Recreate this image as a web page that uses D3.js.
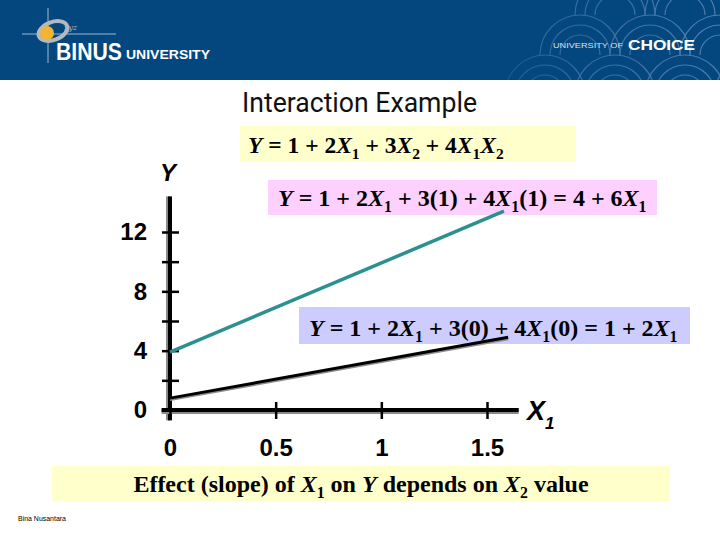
<!DOCTYPE html>
<html>
<head>
<meta charset="utf-8">
<script src="https://cdn.jsdelivr.net/npm/d3@7"></script>
<style>
  html, body { margin: 0; padding: 0; background: #ffffff; }
  svg { display: block; }
</style>
</head>
<body>
<script>
// ---------------- data ----------------
const title = "Interaction Example";
const xTicks = [0, 0.5, 1, 1.5];
const xTickLabels = ["0", "0.5", "1", "1.5"];
const yTicks = [0, 2, 4, 6, 8, 10, 12];
const yTickLabels = ["0", "", "4", "", "8", "", "12"];
// lines (X1, Y)
const lineX2is1 = [[0, 3.9], [1.58, 13.4]];
const lineX2is0 = [[0, 0.8], [1.6, 4.9]];
const seriesNames = ["X2 = 1", "X2 = 0"];
// equations: [text, style] with style n = normal, i = italic, s = subscript
const eqModel = [["Y", "i"], [" = 1 + 2", "n"], ["X", "i"], ["1", "s"], [" + 3", "n"], ["X", "i"], ["2", "s"], [" + 4", "n"], ["X", "i"], ["1", "s"], ["X", "i"], ["2", "s"]];
const eqX2is1 = [["Y", "i"], [" = 1 + 2", "n"], ["X", "i"], ["1", "s"], [" + 3(1) + 4", "n"], ["X", "i"], ["1", "s"], ["(1) = 4 + 6", "n"], ["X", "i"], ["1", "s"]];
const eqX2is0 = [["Y", "i"], [" = 1 + 2", "n"], ["X", "i"], ["1", "s"], [" + 3(0) + 4", "n"], ["X", "i"], ["1", "s"], ["(0) = 1 + 2", "n"], ["X", "i"], ["1", "s"]];
const note = [["Effect (slope) of ", "n"], ["X", "i"], ["1", "s"], [" on ", "n"], ["Y", "i"], [" depends on ", "n"], ["X", "i"], ["2", "s"], [" value", "n"]];

// ---------------- drawing ----------------
const W = 720, H = 540;
const svg = d3.select("body").append("svg").attr("width", W).attr("height", H);

// header band
const header = svg.append("g");
header.append("rect").attr("x", 0).attr("y", 0).attr("width", W).attr("height", 80).attr("fill", "#03477e");
const defs = svg.append("defs");
defs.append("clipPath").attr("id", "hclip").append("rect").attr("x", 0).attr("y", 0).attr("width", W).attr("height", 80);
const grad = defs.append("linearGradient").attr("id", "fadeArc").attr("gradientUnits", "userSpaceOnUse")
  .attr("x1", 470).attr("x2", 720).attr("y1", 0).attr("y2", 0);
grad.append("stop").attr("offset", "0").attr("stop-color", "#03477e");
grad.append("stop").attr("offset", "0.3").attr("stop-color", "#2f659a");
grad.append("stop").attr("offset", "1").attr("stop-color", "#4d7eab");
const arcs = header.append("g").attr("clip-path", "url(#hclip)").attr("fill", "none").attr("stroke-width", 1.2);
const arcCenters = [[545, 95], [615, 95], [685, 95], [755, 95], [580, 55], [650, 55], [720, 55], [615, 15], [685, 15]];
arcCenters.forEach(c => {
  [40, 30, 20].forEach(r => {
    const p = d3.path();
    p.moveTo(c[0] - r, c[1]);
    p.arc(c[0], c[1], r, Math.PI, 2 * Math.PI);
    arcs.append("path").attr("d", p.toString()).attr("stroke", "url(#fadeArc)");
  });
});
// logo
const logo = header.append("g");
logo.append("line").attr("x1", 48).attr("x2", 48).attr("y1", 8).attr("y2", 63).attr("stroke", "#9fb8d0").attr("stroke-width", 1);
logo.append("line").attr("x1", 22).attr("x2", 116).attr("y1", 34).attr("y2", 34).attr("stroke", "#9fb8d0").attr("stroke-width", 1);
logo.append("ellipse").attr("cx", 53).attr("cy", 31).attr("rx", 15).attr("ry", 9).attr("fill", "none").attr("stroke", "#b5b8bd").attr("stroke-width", 4).attr("transform", "rotate(-20,53,31)");
logo.append("circle").attr("cx", 47).attr("cy", 33).attr("r", 7).attr("fill", "#f3b531");
logo.append("text").attr("x", 64).attr("y", 30).attr("fill", "#aab4c0").attr("font-family", "DejaVu Serif").attr("font-style", "italic").attr("font-size", 8).text("xyz");
logo.append("text").attr("x", 56).attr("y", 60).attr("fill", "#ffffff").attr("font-family", "Liberation Sans, Arial").attr("font-weight", "bold").attr("font-size", 24).attr("textLength", 66).attr("lengthAdjust", "spacingAndGlyphs").text("BINUS");
logo.append("text").attr("x", 126).attr("y", 59).attr("fill", "#ffffff").attr("font-family", "Liberation Sans, Arial").attr("font-weight", "bold").attr("font-size", 13).attr("textLength", 84).attr("lengthAdjust", "spacingAndGlyphs").text("UNIVERSITY");
header.append("text").attr("x", 553).attr("y", 48).attr("fill", "#d7e2ec").attr("font-family", "Liberation Sans, Arial").attr("font-size", 8).attr("textLength", 70).attr("lengthAdjust", "spacingAndGlyphs").text("UNIVERSITY OF");
header.append("text").attr("x", 628).attr("y", 50).attr("fill", "#ffffff").attr("font-family", "Liberation Sans, Arial").attr("font-weight", "bold").attr("font-size", 15).attr("textLength", 67).attr("lengthAdjust", "spacingAndGlyphs").text("CHOICE");

// title
svg.append("text").attr("x", 242).attr("y", 112)
  .attr("font-family", "Liberation Sans Narrow, Roboto, Liberation Sans, Arial")
  .attr("font-size", 27).attr("fill", "#111")
  .attr("textLength", 235).attr("lengthAdjust", "spacingAndGlyphs")
  .text(title);

// rich text helper
function rich(g, parts, x, y, size, anchor) {
  const t = g.append("text").attr("x", x).attr("y", y)
    .attr("font-family", "Liberation Serif, Times New Roman, serif")
    .attr("font-weight", "bold").attr("font-size", size).attr("fill", "#000")
    .attr("text-anchor", anchor || "start");
  let shifted = false;
  parts.forEach(p => {
    const ts = t.append("tspan").text(p[0]);
    if (p[1] === "i") ts.attr("font-style", "italic");
    if (p[1] === "s") {
      ts.attr("font-size", size * 0.66).attr("dy", size * 0.26);
      shifted = true;
    } else if (shifted) {
      ts.attr("dy", -size * 0.26);
      shifted = false;
    }
  });
  return t;
}

// boxes
function box(x0, y0, x1, y1, fill) {
  svg.append("rect").attr("x", x0).attr("y", y0).attr("width", x1 - x0).attr("height", y1 - y0).attr("fill", fill);
}
box(240, 126, 576, 162, "#ffffcc");
rich(svg, eqModel, 248, 153, 23.5);
box(268, 180, 657, 215, "#fdd0fd");
rich(svg, eqX2is1, 278, 206, 24);
box(299, 307, 690, 344, "#ccccff");
rich(svg, eqX2is0, 309, 336, 24);
box(52, 466, 670, 501, "#ffffcc");
rich(svg, note, 361, 492, 24, "middle");

// chart
const x = d3.scaleLinear().domain([0, 1.5]).range([170, 487]);
const y = d3.scaleLinear().domain([0, 12]).range([410, 232]);
const chart = svg.append("g");

// axis lines with grey shadow
const yTop = 14.4, yBot = -0.7, xLeft = -0.04, xRight = 1.65;
chart.append("line").attr("x1", x(0) - 2).attr("x2", x(0) - 2).attr("y1", y(yTop)).attr("y2", y(yBot)).attr("stroke", "#8a8a8a").attr("stroke-width", 4);
chart.append("line").attr("x1", x(0)).attr("x2", x(0)).attr("y1", y(yTop)).attr("y2", y(yBot)).attr("stroke", "#000").attr("stroke-width", 4);
chart.append("line").attr("x1", x(xLeft)).attr("x2", x(xRight)).attr("y1", y(0) + 2).attr("y2", y(0) + 2).attr("stroke", "#8a8a8a").attr("stroke-width", 4);
chart.append("line").attr("x1", x(xLeft)).attr("x2", x(xRight)).attr("y1", y(0)).attr("y2", y(0)).attr("stroke", "#000").attr("stroke-width", 4);

const yAxis = d3.axisLeft(y).tickValues(yTicks).tickSize(8).tickPadding(15)
  .tickFormat((d, i) => yTickLabels[i]);
const gy = chart.append("g").attr("transform", `translate(${x(0)},0)`).call(yAxis);
gy.select(".domain").remove();
gy.selectAll(".tick line").attr("x1", 9).attr("x2", -8).attr("stroke", "#000").attr("stroke-width", 2.5);
gy.selectAll(".tick text").attr("font-family", "Liberation Sans, Arial").attr("font-weight", "bold").attr("font-size", 24).attr("fill", "#000");

const xAxis = d3.axisBottom(x).tickValues(xTicks).tickSize(8).tickPadding(21)
  .tickFormat((d, i) => xTickLabels[i]);
const gx = chart.append("g").attr("transform", `translate(0,${y(0)})`).call(xAxis);
gx.select(".domain").remove();
gx.selectAll(".tick line").attr("y1", -8).attr("y2", 9).attr("stroke", "#000").attr("stroke-width", 2.5);
gx.selectAll(".tick text").attr("font-family", "Liberation Sans, Arial").attr("font-weight", "bold").attr("font-size", 24).attr("fill", "#000");

// axis titles
chart.append("text").attr("x", 168).attr("y", 181).attr("text-anchor", "middle")
  .attr("font-family", "Liberation Sans, Arial").attr("font-weight", "bold").attr("font-style", "italic").attr("font-size", 24).text("Y");
const xt = chart.append("text").attr("x", 527).attr("y", 420)
  .attr("font-family", "Liberation Sans, Arial").attr("font-weight", "bold").attr("font-style", "italic").attr("font-size", 27);
xt.append("tspan").text("X");
xt.append("tspan").attr("font-size", 17).attr("dy", 9).text("1");

// lines
const lineGen = d3.line().x(d => x(d[0])).y(d => y(d[1]));
chart.append("path").datum(lineX2is0).attr("d", lineGen).attr("transform", "translate(0,1.5)")
  .attr("fill", "none").attr("stroke", "#8c8c8c").attr("stroke-width", 3);
chart.append("path").datum(lineX2is0).attr("d", lineGen).attr("class", "series").attr("data-name", seriesNames[1])
  .attr("fill", "none").attr("stroke", "#000").attr("stroke-width", 3);
chart.append("path").datum(lineX2is1).attr("d", lineGen).attr("class", "series").attr("data-name", seriesNames[0])
  .attr("fill", "none").attr("stroke", "#2a9090").attr("stroke-width", 3.5);

// footer
svg.append("text").attr("x", 18).attr("y", 521).attr("font-family", "Liberation Sans Narrow, Liberation Sans, Arial")
  .attr("font-size", 8).attr("fill", "#000").attr("textLength", 48).attr("lengthAdjust", "spacingAndGlyphs").text("Bina Nusantara");
</script>
</body>
</html>
